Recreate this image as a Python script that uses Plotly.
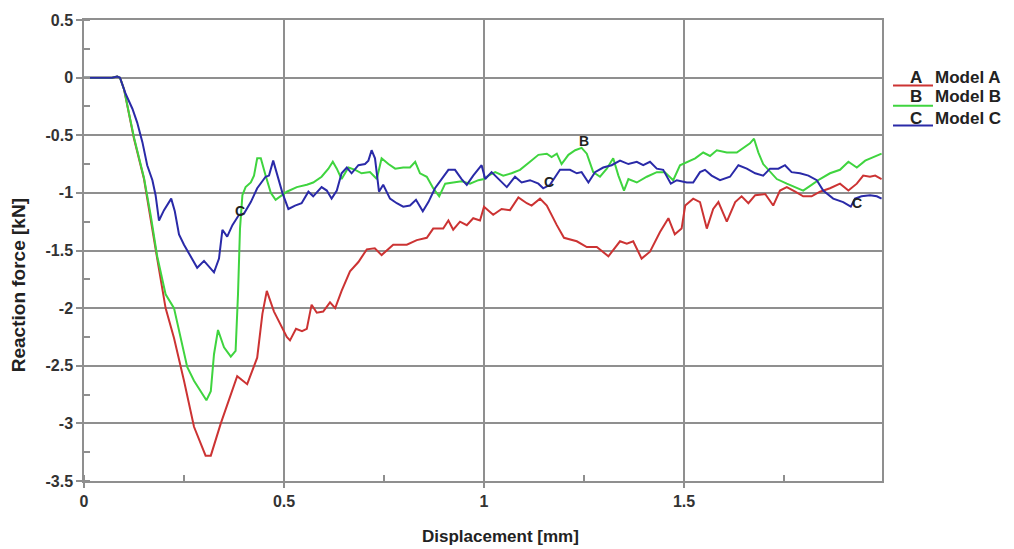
import plotly.graph_objects as go

# ---------------- data ----------------
model_a_x = [0, 0.07, 0.083, 0.09, 0.1, 0.125, 0.15, 0.167, 0.183, 0.204, 0.225, 0.25, 0.275, 0.304, 0.317,
             0.342, 0.367, 0.383, 0.408, 0.433, 0.446, 0.457, 0.475, 0.49, 0.507, 0.515, 0.53, 0.545, 0.557, 0.569,
             0.582, 0.598, 0.615, 0.628, 0.644, 0.665, 0.686, 0.707, 0.727, 0.744, 0.773, 0.807, 0.832, 0.857, 0.873,
             0.898, 0.911, 0.923, 0.94, 0.957, 0.973, 0.99, 1.0, 1.023, 1.044, 1.065, 1.086, 1.107, 1.119, 1.14,
             1.157, 1.182, 1.2, 1.232, 1.257, 1.282, 1.311, 1.34, 1.357, 1.373, 1.394, 1.415, 1.44, 1.461, 1.477,
             1.494, 1.503, 1.523, 1.54, 1.557, 1.573, 1.586, 1.607, 1.628, 1.644, 1.661, 1.678, 1.703, 1.723, 1.74,
             1.757, 1.778, 1.798, 1.819, 1.84, 1.865, 1.89, 1.911, 1.932, 1.948, 1.965, 1.978, 1.994]
model_a_y = [0, 0, 0.01, 0, -0.10, -0.53, -0.88, -1.22, -1.57, -2.0, -2.26, -2.63, -3.03, -3.28, -3.28,
             -3.0, -2.74, -2.59, -2.66, -2.43, -2.05, -1.85, -2.03, -2.13, -2.25, -2.28, -2.18, -2.2, -2.18, -1.97,
             -2.04, -2.03, -1.95, -2.0, -1.85, -1.68, -1.6, -1.49, -1.48, -1.54, -1.45, -1.45, -1.41, -1.39, -1.31,
             -1.31, -1.24, -1.32, -1.25, -1.28, -1.22, -1.24, -1.12, -1.19, -1.14, -1.15, -1.04, -1.09, -1.11, -1.05,
             -1.11, -1.28, -1.39, -1.42, -1.47, -1.47, -1.55, -1.42, -1.44, -1.42, -1.57, -1.51, -1.34, -1.22, -1.36,
             -1.31, -1.11, -1.05, -1.08, -1.31, -1.14, -1.08, -1.25, -1.08, -1.03, -1.09, -1.02, -1.01, -1.11, -0.98,
             -0.95, -0.99, -1.03, -1.03, -0.99, -0.96, -0.92, -0.98, -0.92, -0.85, -0.86, -0.85, -0.88]

model_b_x = [0, 0.07, 0.083, 0.09, 0.1, 0.125, 0.15, 0.167, 0.183, 0.204, 0.225, 0.242, 0.258, 0.275, 0.292,
             0.306, 0.317, 0.325, 0.335, 0.35, 0.367, 0.379, 0.385, 0.39, 0.396, 0.404, 0.417, 0.425, 0.433, 0.442,
             0.454, 0.467, 0.479, 0.492, 0.507, 0.532, 0.557, 0.573, 0.594, 0.611, 0.622, 0.632, 0.644, 0.661, 0.678,
             0.694, 0.715, 0.732, 0.744, 0.761, 0.778, 0.798, 0.815, 0.828, 0.84, 0.857, 0.873, 0.888, 0.903, 0.923,
             0.944, 0.965, 0.986, 1.0, 1.011, 1.028, 1.048, 1.069, 1.09, 1.115, 1.136, 1.157, 1.169, 1.182, 1.194,
             1.211, 1.228, 1.244, 1.257, 1.273, 1.29, 1.307, 1.323, 1.336, 1.35, 1.361, 1.382, 1.407, 1.432, 1.452,
             1.473, 1.49, 1.507, 1.528, 1.548, 1.565, 1.582, 1.607, 1.632, 1.653, 1.665, 1.675, 1.686, 1.698, 1.715,
             1.732, 1.757, 1.778, 1.798, 1.819, 1.84, 1.865, 1.89, 1.911, 1.932, 1.953, 1.973, 1.994]
model_b_y = [0, 0, 0.01, 0, -0.10, -0.52, -0.87, -1.2, -1.55, -1.88, -2.0, -2.26, -2.51, -2.63, -2.72,
             -2.8, -2.72, -2.4, -2.19, -2.34, -2.42, -2.37, -1.88, -1.31, -1.02, -0.95, -0.91, -0.85, -0.7, -0.7,
             -0.85, -1.0, -1.06, -1.03, -0.99, -0.95, -0.93, -0.91, -0.86, -0.79, -0.73, -0.79, -0.88, -0.78, -0.8,
             -0.83, -0.82, -0.88, -0.7, -0.75, -0.79, -0.78, -0.78, -0.73, -0.83, -0.86, -0.96, -1.03, -0.92, -0.91,
             -0.9, -0.92, -0.89, -0.88, -0.85, -0.82, -0.85, -0.83, -0.8, -0.73, -0.67, -0.66, -0.69, -0.66, -0.75,
             -0.67, -0.63, -0.61, -0.66, -0.82, -0.86, -0.79, -0.7, -0.85, -0.98, -0.88, -0.91, -0.86, -0.82, -0.82,
             -0.89, -0.76, -0.73, -0.7, -0.65, -0.68, -0.63, -0.65, -0.65, -0.6, -0.57, -0.53, -0.65, -0.75, -0.82,
             -0.88, -0.92, -0.95, -0.98, -0.93, -0.88, -0.83, -0.8, -0.73, -0.78, -0.72, -0.69, -0.66]

model_c_x = [0, 0.07, 0.083, 0.09, 0.104, 0.121, 0.133, 0.146, 0.158, 0.171, 0.179, 0.1875, 0.2, 0.218, 0.227,
             0.2375, 0.25, 0.267, 0.283, 0.3, 0.3125, 0.325, 0.3375, 0.346, 0.358, 0.371, 0.3875, 0.4, 0.417, 0.433,
             0.454, 0.4625, 0.473, 0.483, 0.496, 0.511, 0.5275, 0.544, 0.561, 0.573, 0.594, 0.607, 0.619, 0.632, 0.644,
             0.657, 0.669, 0.686, 0.7025, 0.711, 0.719, 0.7275, 0.7375, 0.748, 0.765, 0.782, 0.798, 0.815, 0.83, 0.847,
             0.861, 0.8775, 0.894, 0.911, 0.9275, 0.944, 0.957, 0.973, 0.994, 1.003, 1.019, 1.036, 1.057, 1.0775, 1.094,
             1.115, 1.136, 1.148, 1.165, 1.19, 1.215, 1.232, 1.244, 1.261, 1.2775, 1.298, 1.319, 1.34, 1.361, 1.382,
             1.398, 1.415, 1.432, 1.448, 1.467, 1.482, 1.507, 1.523, 1.54, 1.5525, 1.569, 1.59, 1.615, 1.636, 1.657,
             1.678, 1.698, 1.715, 1.736, 1.7525, 1.769, 1.79, 1.811, 1.832, 1.848, 1.873, 1.898, 1.917, 1.9275, 1.944,
             1.965, 1.982, 1.994]
model_c_y = [0, 0, 0.01, 0, -0.14, -0.27, -0.39, -0.56, -0.76, -0.89, -1.02, -1.24, -1.15, -1.05, -1.16,
             -1.36, -1.45, -1.55, -1.65, -1.59, -1.64, -1.69, -1.57, -1.32, -1.38, -1.28, -1.19, -1.18, -1.08, -0.96,
             -0.86, -0.85, -0.72, -0.85, -1.0, -1.14, -1.11, -1.09, -0.99, -1.03, -0.95, -0.98, -1.05, -0.98, -0.83,
             -0.78, -0.83, -0.76, -0.75, -0.72, -0.63, -0.7, -0.99, -0.93, -1.05, -1.09, -1.12, -1.11, -1.06, -1.16,
             -1.08, -0.96, -0.88, -0.8, -0.8, -0.88, -0.93, -0.85, -0.76, -0.88, -0.82, -0.88, -0.95, -0.86, -0.91,
             -0.89, -0.92, -0.96, -0.93, -0.8, -0.8, -0.83, -0.82, -0.91, -0.82, -0.78, -0.76, -0.72, -0.75, -0.73,
             -0.76, -0.73, -0.79, -0.8, -0.92, -0.89, -0.91, -0.91, -0.82, -0.8, -0.85, -0.89, -0.86, -0.76, -0.79,
             -0.83, -0.85, -0.79, -0.79, -0.76, -0.82, -0.83, -0.85, -0.89, -0.98, -1.05, -1.08, -1.12, -1.05, -1.03,
             -1.02, -1.03, -1.05]

series_names = ["Model A", "Model B", "Model C"]
series_letters = ["A", "B", "C"]
series_colors = ["#cc3333", "#3fd43f", "#2a2aa8"]

# curve labels (letter markers on the curves)
label_text = ["B", "C", "C", "C"]
label_x = [1.25, 0.39, 1.1625, 1.9325]
label_y = [-0.56, -1.17, -0.915, -1.10]

x_ticks = [0, 0.5, 1, 1.5]
x_tick_text = ["0", "0.5", "1", "1.5"]
y_ticks = [0.5, 0, -0.5, -1, -1.5, -2, -2.5, -3, -3.5]
y_tick_text = ["0.5", "0", "-0.5", "-1", "-1.5", "-2", "-2.5", "-3", "-3.5"]

assert len(model_a_x) == len(model_a_y)
assert len(model_b_x) == len(model_b_y)
assert len(model_c_x) == len(model_c_y)

FONT = "Liberation Sans, Arial, sans-serif"
GRID = "#8f8f8f"

fig = go.Figure()
for xs, ys, name, col in zip([model_a_x, model_b_x, model_c_x], [model_a_y, model_b_y, model_c_y],
                             series_names, series_colors):
    fig.add_trace(go.Scatter(x=xs, y=ys, mode="lines", name=name,
                             line=dict(color=col, width=2), showlegend=False))

# curve letter labels
fig.add_trace(go.Scatter(x=label_x, y=label_y, mode="text", text=["<b>%s</b>" % t for t in label_text],
                         textfont=dict(family=FONT, size=14, color="#222222"),
                         showlegend=False, hoverinfo="skip"))

# custom legend (line sample with letter above it, then name)
leg_line_y = [0.858, 0.814, 0.771]
leg_text_y = [0.876, 0.833, 0.787]
for i in range(3):
    fig.add_shape(type="line", xref="paper", yref="paper", x0=1.0138, x1=1.0639,
                  y0=leg_line_y[i], y1=leg_line_y[i], line=dict(color=series_colors[i], width=2))
    fig.add_annotation(xref="paper", yref="paper", x=1.0426, y=leg_text_y[i], text="<b>%s</b>" % series_letters[i],
                       showarrow=False, font=dict(family=FONT, size=17, color="#222222"),
                       xanchor="center", yanchor="middle")
    fig.add_annotation(xref="paper", yref="paper", x=1.064, y=leg_text_y[i], text="<b>%s</b>" % series_names[i],
                       showarrow=False, font=dict(family=FONT, size=17, color="#222222"),
                       xanchor="left", yanchor="middle")

# axis titles
fig.add_annotation(xref="paper", yref="paper", x=-0.0825, y=0.425, text="<b>Reaction force [kN]</b>",
                   textangle=-90, showarrow=False, font=dict(family=FONT, size=19, color="#222222"),
                   xanchor="center", yanchor="middle")
fig.add_annotation(xref="paper", yref="paper", x=0.522, y=-0.1207, text="<b>Displacement [mm]</b>",
                   showarrow=False, font=dict(family=FONT, size=17, color="#222222"),
                   xanchor="center", yanchor="middle")

fig.update_layout(
    width=1014, height=549,
    margin=dict(l=84, r=132, t=17, b=68),
    paper_bgcolor="white", plot_bgcolor="white",
    font=dict(family=FONT, size=16, color="#333333"),
)
fig.update_xaxes(
    range=[0, 1.995], tickvals=x_ticks, ticktext=["<b>%s</b>" % t for t in x_tick_text],
    showgrid=True, gridcolor=GRID, gridwidth=1.5,
    showline=True, linecolor=GRID, linewidth=1.5, mirror=True,
    ticks="outside", ticklen=5, tickcolor=GRID, tickwidth=1.5,
    minor=dict(dtick=0.25, tick0=0, ticks="inside", ticklen=6, tickcolor=GRID, tickwidth=1.5, showgrid=False),
    zeroline=False, tickfont=dict(family=FONT, size=16, color="#333333"),
)
fig.update_yaxes(
    range=[-3.5, 0.5], tickvals=y_ticks, ticktext=["<b>%s</b>" % t for t in y_tick_text],
    showgrid=True, gridcolor=GRID, gridwidth=1.5,
    showline=True, linecolor=GRID, linewidth=1.5, mirror=True,
    ticks="outside", ticklen=6, tickcolor=GRID, tickwidth=1.5,
    minor=dict(dtick=0.25, tick0=0, ticks="inside", ticklen=6, tickcolor=GRID, tickwidth=1.5, showgrid=False),
    zeroline=False, tickfont=dict(family=FONT, size=16, color="#333333"),
)

fig.write_html("out.html")
